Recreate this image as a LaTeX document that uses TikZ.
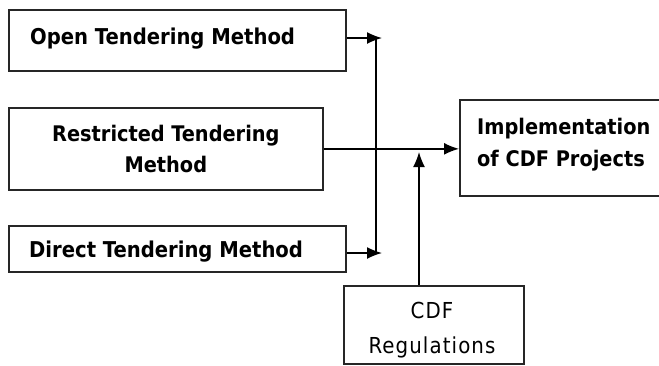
\documentclass[tikz,border=0pt]{standalone}
\usepackage{fontspec}
\setmainfont{DejaVu Sans Condensed}
\usetikzlibrary{arrows.meta,calc}
\begin{document}
\begin{tikzpicture}[x=1pt,y=-1pt,
  box/.style={draw=black!85,line width=1.7pt,inner sep=0pt},
  lbl/.style={font=\bfseries\fontsize{21.8}{30}\selectfont,inner sep=0pt},
  rlbl/.style={font=\fontsize{22}{35}\selectfont\addfontfeature{LetterSpace=5},inner sep=0pt,align=center},
  conn/.style={line width=1.5pt,-{Latex[length=15pt,width=12pt]}},
  plain/.style={line width=1.5pt}]
\clip (0,0) rectangle (659,365);
\useasboundingbox (0,0) rectangle (659,365);
\fill[white] (0,0) rectangle (659,365);
% boxes
\node[box,minimum width=337pt,minimum height=61pt,anchor=north west] (open) at (8,9) {};
\node[lbl,anchor=west] (opent) at (30,39) {Open Tendering Method};
\node[box,minimum width=314pt,minimum height=82pt,anchor=north west,align=center,font=\bfseries\fontsize{21.5}{31}\selectfont] (restr) at (8,107) {Restricted Tendering\\Method};
\node[box,minimum width=337pt,minimum height=46pt,anchor=north west] (direct) at (8,225) {};
\node[lbl,anchor=west] (directt) at (29,252) {Direct Tendering Method};
\node[box,minimum width=260pt,minimum height=96pt,anchor=north west] (impl) at (459,99) {};
\node[anchor=west,align=left,inner sep=0pt,font=\bfseries\fontsize{21.5}{32}\selectfont] (implt) at (477,145) {Implementation\\of CDF Projects};
\node[box,minimum width=180pt,minimum height=78pt,anchor=north west] (cdf) at (343,285) {};
\node[rlbl] (cdft) at (432,330) {CDF\\Regulations};
% connectors
\coordinate (jt) at (376,38);
\coordinate (jb) at (376,253);
\coordinate (cin) at (419,152);
\draw[plain] (jt) -- (jb);
\draw[conn] (open.east |- jt) -- ($(jt)+(6,0)$);
\draw[conn] (direct.east |- jb) -- ($(jb)+(6,0)$);
\draw[conn] (restr.east) -- (impl.west |- restr.east);
\draw[conn] (cdf.north -| cin) -- (cin);
\end{tikzpicture}
\end{document}
